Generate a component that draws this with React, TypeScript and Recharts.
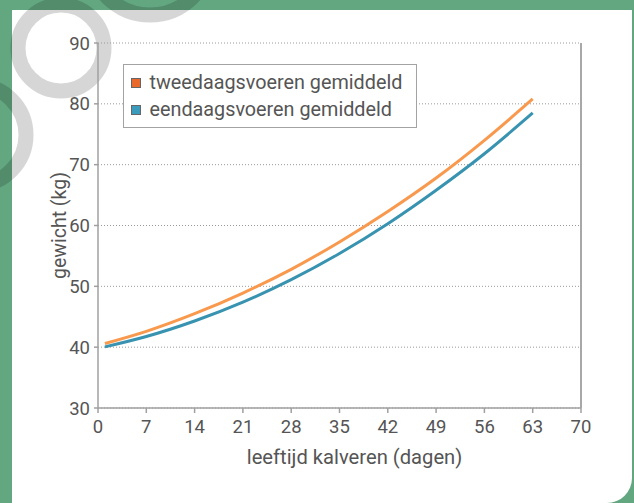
import React from 'react';
import { LineChart, Line, XAxis, YAxis, CartesianGrid, ReferenceLine, Legend } from 'recharts';

const days = [1, 7, 14, 21, 28, 35, 42, 49, 56, 63];
const tweedaags = [40.6, 42.6, 45.5, 48.9, 52.8, 57.3, 62.3, 67.8, 74.0, 80.8];
const eendaags = [40.05, 41.75, 44.3, 47.4, 51.1, 55.4, 60.3, 65.8, 71.8, 78.5];
const xTicks = [0, 7, 14, 21, 28, 35, 42, 49, 56, 63, 70];
const yTicks = [30, 40, 50, 60, 70, 80, 90];
const seriesNames = ['tweedaagsvoeren gemiddeld', 'eendaagsvoeren gemiddeld'];
const lineColors = ['#f8994d', '#3893b1'];
const legendColors = ['#e8692a', '#3a9bbd'];

const data = days.map((d, i) => ({ day: d, twee: tweedaags[i], een: eendaags[i] }));

const FONT = 'Roboto, "DejaVu Sans", sans-serif';
const TEXT = '#555555';

const LegendBox = () => (
  <div
    style={{
      boxSizing: 'border-box',
      width: 294,
      height: 64,
      border: '1.5px solid #a3a3a3',
      background: '#ffffff',
      paddingTop: 4,
      paddingLeft: 6.5,
      fontFamily: FONT,
      fontSize: 19.8,
      color: TEXT,
      textAlign: 'left',
    }}
  >
    {seriesNames.map((n, i) => (
      <div key={n} style={{ height: 27, lineHeight: '27px', display: 'flex', alignItems: 'center', whiteSpace: 'nowrap' }}>
        <span
          style={{
            display: 'inline-block',
            boxSizing: 'border-box',
            width: 10,
            height: 10,
            background: legendColors[i],
            border: '1px solid #666',
            marginRight: 9,
            flexShrink: 0,
          }}
        />
        <span>{n}</span>
      </div>
    ))}
  </div>
);

export default function App() {
  return (
    <div style={{ position: 'fixed', left: 0, top: 0, width: 634, height: 503, background: '#62a780', overflow: 'hidden' }}>
      <div
        style={{
          position: 'absolute',
          left: 12,
          top: 10,
          width: 620,
          height: 493,
          background: '#ffffff',
          borderBottomRightRadius: 25,
        }}
      />
      <svg width={634} height={503} style={{ position: 'absolute', left: 0, top: 0 }}>
        <g fill="none" stroke="rgba(0,0,0,0.16)" strokeWidth={15}>
          <ellipse cx={61} cy={48} rx={43} ry={43} />
          <ellipse cx={-24} cy={135} rx={50} ry={50} />
          <ellipse cx={150} cy={-45} rx={60} ry={60} />
        </g>
      </svg>
      <div style={{ position: 'absolute', left: 0, top: 0 }}>
        <LineChart width={634} height={503} data={data} margin={{ top: 43, right: 53, bottom: 55, left: 18 }}>
          <CartesianGrid vertical={false} stroke="#9a9a9a" strokeDasharray="1 2" />
          <XAxis
            dataKey="day"
            type="number"
            domain={[0, 70]}
            ticks={xTicks}
            height={40}
            stroke="#a0a0a0"
            strokeWidth={1.5}
            tickSize={5}
            tickMargin={7}
            tick={{ fill: TEXT, fontSize: 18.5, fontFamily: FONT }}
            label={{ value: 'leeftijd kalveren (dagen)', position: 'bottom', offset: 2, dx: 15, fill: TEXT, fontSize: 20.2, fontFamily: FONT }}
          />
          <YAxis
            type="number"
            domain={[30, 90]}
            ticks={yTicks}
            width={80}
            stroke="#a0a0a0"
            strokeWidth={1.5}
            tickSize={4}
            tickMargin={4}
            tick={{ fill: TEXT, fontSize: 18.5, fontFamily: FONT }}
            label={{ value: 'gewicht (kg)', angle: -90, position: 'insideLeft', offset: 41, fill: TEXT, fontSize: 19.5, fontFamily: FONT, style: { textAnchor: 'middle' } }}
          />
          <ReferenceLine x={70} stroke="#a8a8a8" strokeWidth={2} />
          <Legend
            layout="horizontal"
            verticalAlign="middle"
            align="center"
            content={<LegendBox />}
            wrapperStyle={{ position: 'absolute', left: 123, top: 64, width: 294, height: 64 }}
          />
          <Line type="monotone" dataKey="twee" name={seriesNames[0]} stroke={lineColors[0]} strokeWidth={3} dot={false} isAnimationActive={false} />
          <Line type="monotone" dataKey="een" name={seriesNames[1]} stroke={lineColors[1]} strokeWidth={3} dot={false} isAnimationActive={false} />
        </LineChart>
      </div>
    </div>
  );
}
